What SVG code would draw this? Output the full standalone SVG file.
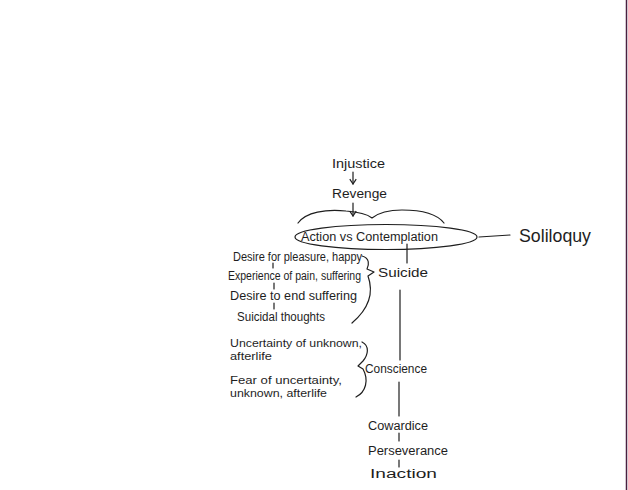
<svg xmlns="http://www.w3.org/2000/svg" width="628" height="490" viewBox="0 0 628 490">
  <style>
    .t { font-family: "Liberation Sans", "DejaVu Sans", sans-serif; font-size: 12px; fill: #1e1e1e; }
    .s { font-size: 10.5px; }
    .big { font-size: 19px; }
    .ln { fill: none; stroke: #1e1e1e; stroke-width: 1.2; stroke-linecap: round; stroke-linejoin: round; }
  </style>
  <defs>
    <marker id="arr" viewBox="0 0 10 10" refX="8" refY="5" markerWidth="8" markerHeight="8" orient="auto" markerUnits="userSpaceOnUse">
      <path d="M2,1 L8,5 L2,9" fill="none" stroke="#1e1e1e" stroke-width="1.5"/>
    </marker>
  </defs>

  <rect width="628" height="490" fill="#ffffff"/>
  <!-- right page edge -->
  <line x1="626.5" y1="0" x2="626.5" y2="490" stroke="#4a2040" stroke-width="1.5"/>

  <g id="connectors">
    <!-- Injustice -> Revenge -> theme -->
    <line class="ln" x1="353" y1="172" x2="353" y2="184" marker-end="url(#arr)"/>
    <line class="ln" x1="353" y1="203" x2="353" y2="216" marker-end="url(#arr)"/>
    <!-- horizontal brace over the theme -->
    <path class="ln" d="M298,223 C306,212 326,209 346,211 C360,212 367,214 372,218 C377,214 386,210 402,210 C421,210 437,214 444,223"/>
    <!-- theme -> Soliloquy -->
    <path class="ln" d="M479,237 L510,235"/>
    <!-- theme -> Suicide -->
    <line class="ln" x1="407" y1="244" x2="407" y2="263"/>
    <!-- Suicide -> Conscience -->
    <line class="ln" x1="400" y1="290" x2="400" y2="360"/>
    <!-- Conscience -> Cowardice -> Perseverance -> Inaction -->
    <line class="ln" x1="399" y1="382" x2="399" y2="416"/>
    <line class="ln" x1="399" y1="433" x2="399" y2="441"/>
    <line class="ln" x1="399" y1="460" x2="399" y2="467"/>
    <!-- ticks between the reasons -->
    <line class="ln" x1="273" y1="263" x2="273" y2="268"/>
    <line class="ln" x1="274" y1="283" x2="274" y2="289"/>
    <line class="ln" x1="274" y1="303" x2="274" y2="309"/>
    <!-- brace grouping reasons toward Suicide -->
    <path class="ln" d="M362,256 C370,258 369,265 367,269 L374,272 L368,276 C373,290 372,306 352,323"/>
    <!-- brace grouping reasons toward Conscience -->
    <path class="ln" d="M362,342 C370,346 368,355 363,361 L358,366 L363,369 C369,380 366,392 356,397"/>
  </g>

  <g id="injustice">
    <text class="t" x="332" y="168" textLength="53" lengthAdjust="spacingAndGlyphs">Injustice</text>
  </g>
  <g id="revenge">
    <text class="t" x="332" y="198" textLength="55" lengthAdjust="spacingAndGlyphs">Revenge</text>
  </g>
  <g id="theme">
    <ellipse class="ln" cx="386" cy="237" rx="91" ry="12.5"/>
    <text class="t" x="301" y="241" textLength="137" lengthAdjust="spacingAndGlyphs">Action vs Contemplation</text>
  </g>
  <g id="soliloquy">
    <text class="t big" x="519" y="242" textLength="72" lengthAdjust="spacingAndGlyphs">Soliloquy</text>
  </g>
  <g id="suicide">
    <text class="t" x="378" y="277" textLength="50" lengthAdjust="spacingAndGlyphs">Suicide</text>
  </g>
  <g id="reasons-suicide">
    <text class="t" x="233" y="261" textLength="129" lengthAdjust="spacingAndGlyphs">Desire for pleasure, happy</text>
    <text class="t" x="228" y="280" textLength="133" lengthAdjust="spacingAndGlyphs">Experience of pain, suffering</text>
    <text class="t" x="230" y="300" textLength="127" lengthAdjust="spacingAndGlyphs">Desire to end suffering</text>
    <text class="t" x="237" y="321" textLength="88" lengthAdjust="spacingAndGlyphs">Suicidal thoughts</text>
  </g>
  <g id="reasons-conscience">
    <text class="t s" x="230" y="347" textLength="132" lengthAdjust="spacingAndGlyphs">Uncertainty of unknown,</text>
    <text class="t s" x="230" y="360" textLength="42" lengthAdjust="spacingAndGlyphs">afterlife</text>
    <text class="t s" x="230" y="384" textLength="112" lengthAdjust="spacingAndGlyphs">Fear of uncertainty,</text>
    <text class="t s" x="230" y="397" textLength="97" lengthAdjust="spacingAndGlyphs">unknown, afterlife</text>
  </g>
  <g id="conscience">
    <text class="t" x="365" y="373" textLength="62" lengthAdjust="spacingAndGlyphs">Conscience</text>
  </g>
  <g id="cowardice">
    <text class="t" x="368" y="430" textLength="60" lengthAdjust="spacingAndGlyphs">Cowardice</text>
  </g>
  <g id="perseverance">
    <text class="t" x="368" y="455" textLength="80" lengthAdjust="spacingAndGlyphs">Perseverance</text>
  </g>
  <g id="inaction">
    <text class="t" x="370" y="478" textLength="67" lengthAdjust="spacingAndGlyphs">Inaction</text>
  </g>
</svg>
